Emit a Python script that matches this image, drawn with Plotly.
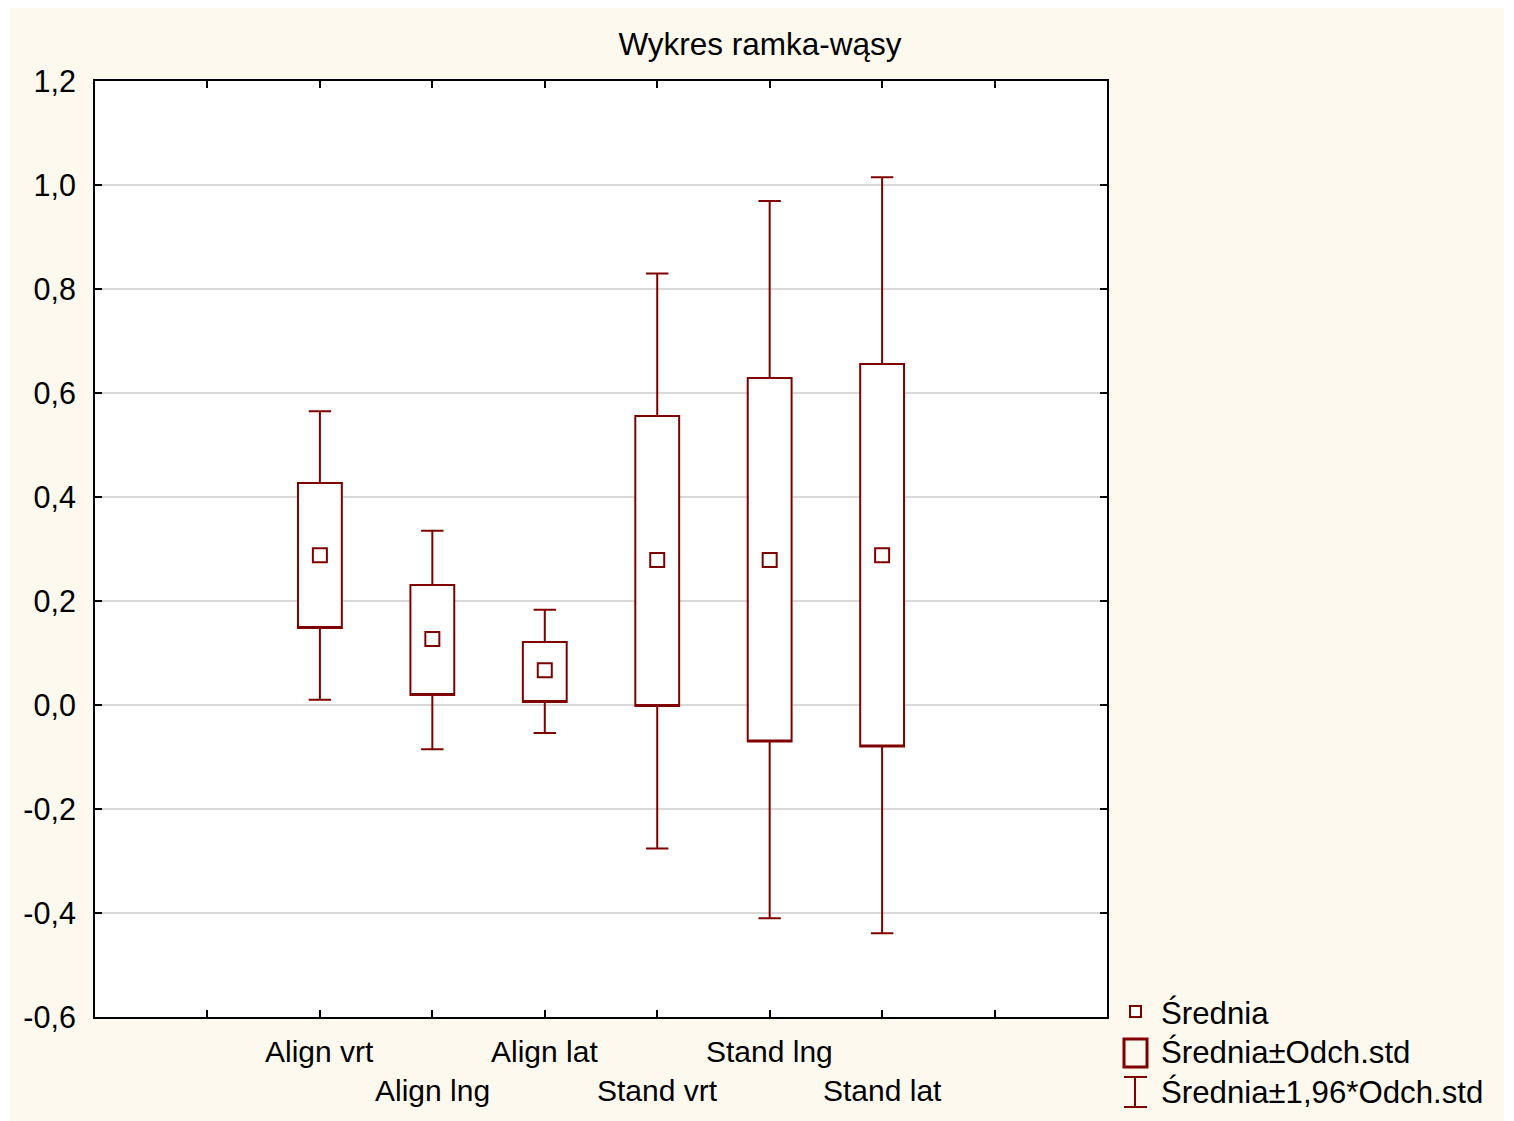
import plotly.graph_objects as go

# ---- data ----
categories = ["Align vrt", "Align lng", "Align lat", "Stand vrt", "Stand lng", "Stand lat"]
cat_pos = [2, 3, 4, 5, 6, 7]
mean_vals = [0.288, 0.127, 0.067, 0.279, 0.279, 0.288]
sd_upper = [0.427, 0.231, 0.121, 0.556, 0.629, 0.656]
sd_lower = [0.148, 0.019, 0.006, -0.002, -0.070, -0.080]
w_upper = [0.565, 0.335, 0.183, 0.830, 0.969, 1.015]
w_lower = [0.010, -0.085, -0.054, -0.276, -0.410, -0.439]
y_tickvals = [-0.6, -0.4, -0.2, 0.0, 0.2, 0.4, 0.6, 0.8, 1.0, 1.2]
y_ticktext = ["-0,6", "-0,4", "-0,2", "0,0", "0,2", "0,4", "0,6", "0,8", "1,0", "1,2"]
legend_labels = ["Średnia", "Średnia±Odch.std", "Średnia±1,96*Odch.std"]
title_text = "Wykres ramka-wąsy"

RED = "#800000"
CREAM = "#FEF9EE"
FONT = "Liberation Sans, Arial, sans-serif"

OFF = 8  # page body margin
W, H = 1514 - OFF, 1121 - OFF
# plot area in page pixel coordinates (reference)
PX0, PX1, PY0, PY1 = 95, 1107, 81, 1017


def px(x):
    return (x - PX0) / (PX1 - PX0)


def py(y):
    return (PY1 - y) / (PY1 - PY0)


fig = go.Figure()

fig.add_trace(go.Box(
    x=cat_pos,
    q1=sd_lower,
    median=sd_lower,
    q3=sd_upper,
    lowerfence=w_lower,
    upperfence=w_upper,
    width=0.39,
    whiskerwidth=0.51,
    fillcolor="white",
    line=dict(color=RED, width=2),
    boxpoints=False,
    hoverinfo="skip",
    showlegend=False,
))

fig.add_trace(go.Scatter(
    x=cat_pos,
    y=mean_vals,
    mode="markers",
    marker=dict(symbol="square", size=14, color="white",
                line=dict(color=RED, width=2)),
    showlegend=False,
    hoverinfo="skip",
))

shapes = [
    # cream background
    dict(type="rect", xref="paper", yref="paper", layer="below",
         x0=px(10), x1=px(1504), y0=py(1121), y1=py(2),
         fillcolor=CREAM, line=dict(width=0)),
    # white plot area
    dict(type="rect", xref="paper", yref="paper", layer="below",
         x0=0, x1=1, y0=0, y1=1, fillcolor="white", line=dict(width=0)),
    # legend: mean marker
    dict(type="rect", xref="paper", yref="paper",
         x0=px(1130), x1=px(1141), y0=py(1017), y1=py(1006),
         fillcolor="white", line=dict(color=RED, width=2)),
    # legend: sd box
    dict(type="rect", xref="paper", yref="paper",
         x0=px(1124), x1=px(1147), y0=py(1067), y1=py(1039),
         fillcolor="rgba(0,0,0,0)", line=dict(color=RED, width=3)),
    # legend: whisker
    dict(type="line", xref="paper", yref="paper",
         x0=px(1135), x1=px(1135), y0=py(1107), y1=py(1077),
         line=dict(color=RED, width=2)),
    dict(type="line", xref="paper", yref="paper",
         x0=px(1124), x1=px(1147), y0=py(1077), y1=py(1077),
         line=dict(color=RED, width=2)),
    dict(type="line", xref="paper", yref="paper",
         x0=px(1124), x1=px(1147), y0=py(1107), y1=py(1107),
         line=dict(color=RED, width=2)),
]

annotations = []
for i, (c, p) in enumerate(zip(categories, cat_pos)):
    annotations.append(dict(
        x=p, xref="x", y=py(1051) if i % 2 == 0 else py(1090), yref="paper",
        text=c, showarrow=False, xanchor="center", yanchor="middle",
        font=dict(family=FONT, size=30, color="black"),
    ))

for lab, yc in zip(legend_labels, [1013, 1052, 1092]):
    annotations.append(dict(
        x=px(1159), xref="paper", y=py(yc), yref="paper",
        text=lab, showarrow=False, xanchor="left", yanchor="middle",
        font=dict(family=FONT, size=31.2, color="black"),
    ))

fig.update_layout(
    width=W, height=H,
    margin=dict(l=PX0 - OFF, r=W - (PX1 - OFF), t=PY0 - OFF, b=H - (PY1 - OFF)),
    paper_bgcolor="white",
    plot_bgcolor="white",
    font=dict(family=FONT, size=30, color="black"),
    title=dict(text=title_text, x=(760 - OFF) / W, xref="container", xanchor="center",
               y=1 - (44 - OFF) / H, yref="container", yanchor="middle",
               font=dict(family=FONT, size=31.5, color="black")),
    shapes=shapes,
    annotations=annotations,
    showlegend=False,
    xaxis=dict(
        range=[0, 9], tickvals=[1, 2, 3, 4, 5, 6, 7, 8], showticklabels=False,
        ticks="inside", ticklen=7, tickwidth=2, tickcolor="black",
        showline=True, linecolor="black", linewidth=2, mirror="ticks",
        showgrid=False, zeroline=False, fixedrange=True,
    ),
    yaxis=dict(
        range=[-0.6, 1.2], tickvals=y_tickvals, ticktext=y_ticktext,
        ticks="inside", ticklen=7, tickwidth=2, tickcolor="black",
        showline=True, linecolor="black", linewidth=2, mirror="ticks",
        showgrid=True, gridcolor="#D9D9D9", gridwidth=2,
        zeroline=False, ticklabelstandoff=11,
        tickfont=dict(family=FONT, size=30.5, color="black"),
    ),
)

fig.write_html("out.html")
